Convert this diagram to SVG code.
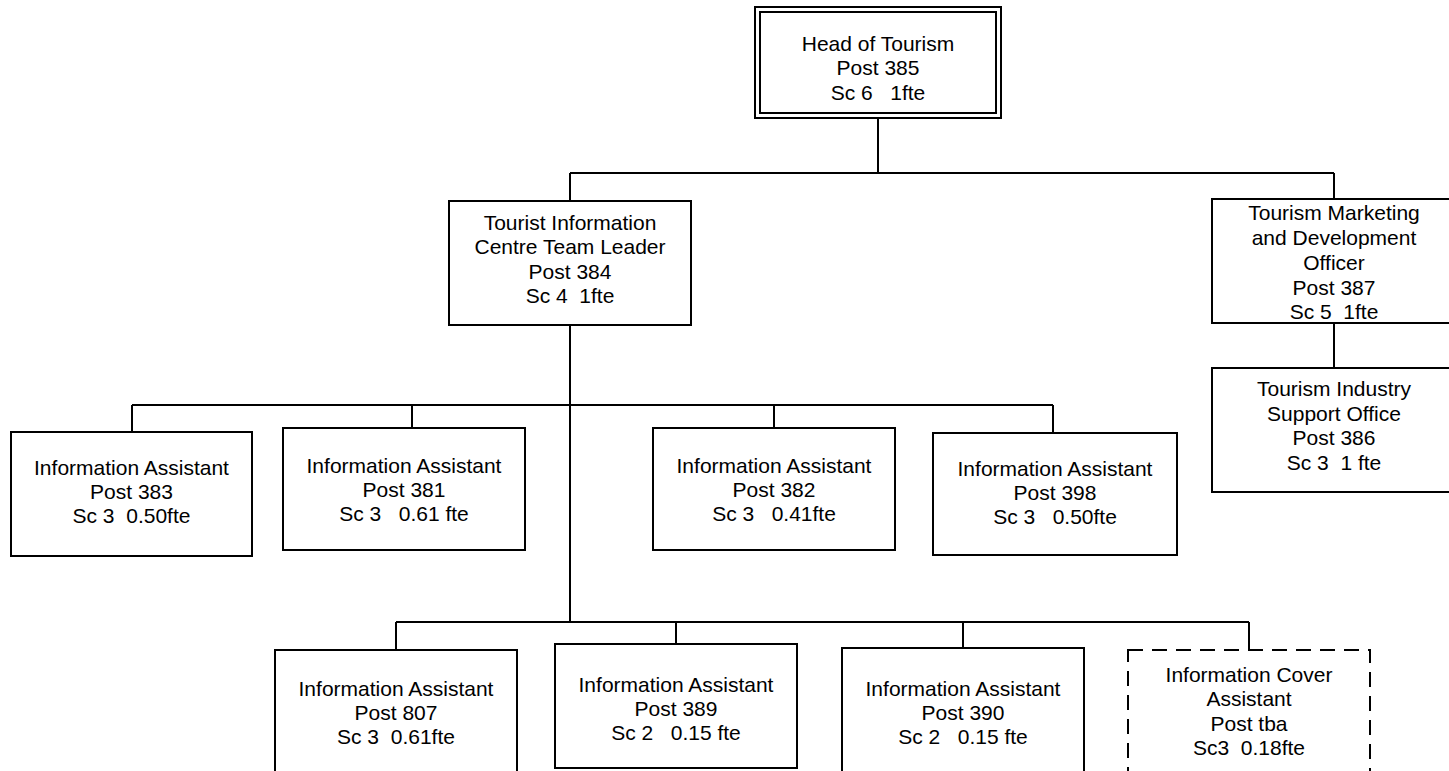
<svg xmlns="http://www.w3.org/2000/svg" width="1449" height="771" viewBox="0 0 1449 771">
<style>
.box{fill:#fff;stroke:#000;stroke-width:2}
.dash{fill:#fff;stroke:#000;stroke-width:2;stroke-dasharray:15 9}
.ln{fill:none;stroke:#000;stroke-width:2}
text{font-family:"Liberation Sans",Arial,sans-serif;font-size:21px;fill:#000;text-anchor:middle;white-space:pre}
</style>
<rect width="1449" height="771" fill="#fff"/>
<g id="connectors">
<path class="ln" d="M878 118V173M570 173H1334M570 173V201M1334 173V199"/>
<path class="ln" d="M1334 323V368"/>
<path class="ln" d="M570 325V622"/>
<path class="ln" d="M132 405H1053M132 405V432M412 405V428M774 405V428M1053 405V433"/>
<path class="ln" d="M396 622H1249M396 622V650M676 622V644M963 622V648M1249 622V650"/>
</g>
<g id="head">
<rect class="box" x="755" y="7" width="246" height="111"/>
<rect class="box" x="760" y="12" width="236" height="101"/>
<text x="878" y="51">Head of Tourism</text>
<text x="878" y="75">Post 385</text>
<text x="878" y="100">Sc 6   1fte</text>
</g>
<g id="tictl">
<rect class="box" x="449" y="201" width="242" height="124"/>
<text x="570" y="230">Tourist Information</text>
<text x="570" y="254">Centre Team Leader</text>
<text x="570" y="279">Post 384</text>
<text x="570" y="303">Sc 4  1fte</text>
</g>
<g id="tmdo">
<rect class="box" x="1212" y="199" width="244" height="124"/>
<text x="1334" y="220">Tourism Marketing</text>
<text x="1334" y="245">and Development</text>
<text x="1334" y="270">Officer</text>
<text x="1334" y="295">Post 387</text>
<text x="1334" y="319">Sc 5  1fte</text>
</g>
<g id="tiso">
<rect class="box" x="1212" y="368" width="244" height="124"/>
<text x="1334" y="396">Tourism Industry</text>
<text x="1334" y="421">Support Office</text>
<text x="1334" y="445">Post 386</text>
<text x="1334" y="470">Sc 3  1 fte</text>
</g>
<g id="ia383">
<rect class="box" x="11" y="432" width="241" height="124"/>
<text x="131.5" y="475">Information Assistant</text>
<text x="131.5" y="499">Post 383</text>
<text x="131.5" y="523">Sc 3  0.50fte</text>
</g>
<g id="ia381">
<rect class="box" x="283" y="428" width="242" height="122"/>
<text x="404" y="473">Information Assistant</text>
<text x="404" y="497">Post 381</text>
<text x="404" y="521">Sc 3   0.61 fte</text>
</g>
<g id="ia382">
<rect class="box" x="653" y="428" width="242" height="122"/>
<text x="774" y="473">Information Assistant</text>
<text x="774" y="497">Post 382</text>
<text x="774" y="521">Sc 3   0.41fte</text>
</g>
<g id="ia398">
<rect class="box" x="933" y="433" width="244" height="122"/>
<text x="1055" y="476">Information Assistant</text>
<text x="1055" y="500">Post 398</text>
<text x="1055" y="524">Sc 3   0.50fte</text>
</g>
<g id="ia807">
<rect class="box" x="275" y="650" width="242" height="124"/>
<text x="396" y="696">Information Assistant</text>
<text x="396" y="720">Post 807</text>
<text x="396" y="744">Sc 3  0.61fte</text>
</g>
<g id="ia389">
<rect class="box" x="555" y="644" width="242" height="124"/>
<text x="676" y="692">Information Assistant</text>
<text x="676" y="716">Post 389</text>
<text x="676" y="740">Sc 2   0.15 fte</text>
</g>
<g id="ia390">
<rect class="box" x="842" y="648" width="242" height="124"/>
<text x="963" y="696">Information Assistant</text>
<text x="963" y="720">Post 390</text>
<text x="963" y="744">Sc 2   0.15 fte</text>
</g>
<g id="cover">
<rect class="dash" x="1128" y="650" width="242" height="124"/>
<text x="1249" y="682">Information Cover</text>
<text x="1249" y="706">Assistant</text>
<text x="1249" y="731">Post tba</text>
<text x="1249" y="755">Sc3  0.18fte</text>
</g>
</svg>
